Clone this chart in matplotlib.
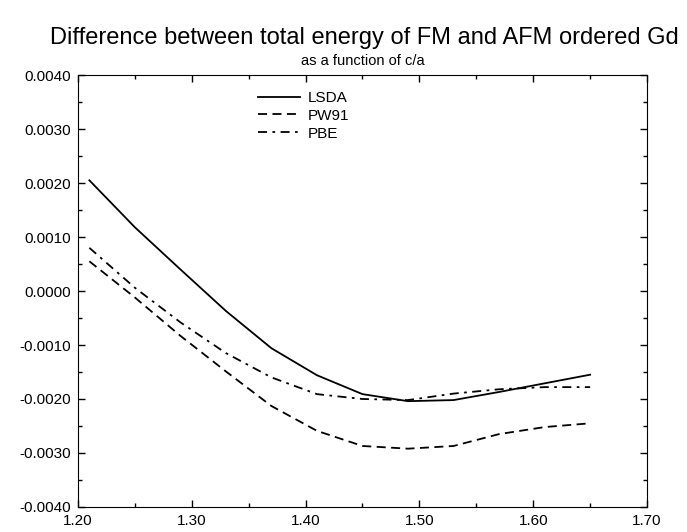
import matplotlib
matplotlib.use("Agg")
import matplotlib.pyplot as plt
from matplotlib.ticker import MultipleLocator, FormatStrFormatter

plt.rcParams['font.family'] = ['Liberation Sans', 'DejaVu Sans']

# c/a values
ca = [1.21, 1.25, 1.29, 1.33, 1.37, 1.41, 1.45, 1.49, 1.53, 1.57, 1.61, 1.65]

# E(FM) - E(AFM)
lsda = [0.00205, 0.00118, 0.00040, -0.00037, -0.00106, -0.00156, -0.00191,
        -0.00204, -0.00202, -0.00187, -0.00171, -0.00155]
pw91 = [0.00055, -0.00012, -0.00083, -0.00149, -0.00213, -0.00259, -0.00287,
        -0.00292, -0.00287, -0.00265, -0.00252, -0.00245]
pbe = [0.00080, 0.00006, -0.00058, -0.00115, -0.00160, -0.00191, -0.00200,
       -0.00202, -0.00190, -0.00182, -0.00178, -0.00178]

fig = plt.figure(figsize=(6.87, 5.32), dpi=100)
ax = fig.add_axes([0.1135, 0.047, 0.8283, 0.812])

ax.plot(ca, lsda, color='black', lw=1.3, linestyle='-', label='LSDA')
ax.plot(ca, pw91, color='black', lw=1.3, linestyle=(0, (5, 3)), label='PW91')
ax.plot(ca, pbe, color='black', lw=1.3, linestyle=(0, (5, 3, 1.5, 3)), label='PBE')

ax.set_xlim(1.20, 1.70)
ax.set_ylim(-0.004, 0.004)
ax.xaxis.set_major_locator(MultipleLocator(0.1))
ax.xaxis.set_minor_locator(MultipleLocator(0.05))
ax.yaxis.set_major_locator(MultipleLocator(0.001))
ax.yaxis.set_minor_locator(MultipleLocator(0.0005))
ax.xaxis.set_major_formatter(FormatStrFormatter('%.2f'))
ax.yaxis.set_major_formatter(FormatStrFormatter('%.4f'))
ax.tick_params(which='both', direction='in', top=True, right=True, labelsize=11)
ax.tick_params(which='major', length=5, width=1)
ax.tick_params(which='minor', length=3, width=1)
ax.tick_params(axis='x', pad=5)
ax.tick_params(axis='y', pad=5)

ax.legend(loc='upper left', bbox_to_anchor=(0.293, 0.995), frameon=False,
          fontsize=11, handlelength=2.7, labelspacing=0.25, handletextpad=0.5)

fig.text(0.531, 0.928, 'Difference between total energy of FM and AFM ordered Gd',
         ha='center', va='center', fontsize=17)
fig.text(0.5277, 0.885, 'as a function of c/a', ha='center', va='center', fontsize=10.5)

fig.savefig('out.png', dpi=100)
